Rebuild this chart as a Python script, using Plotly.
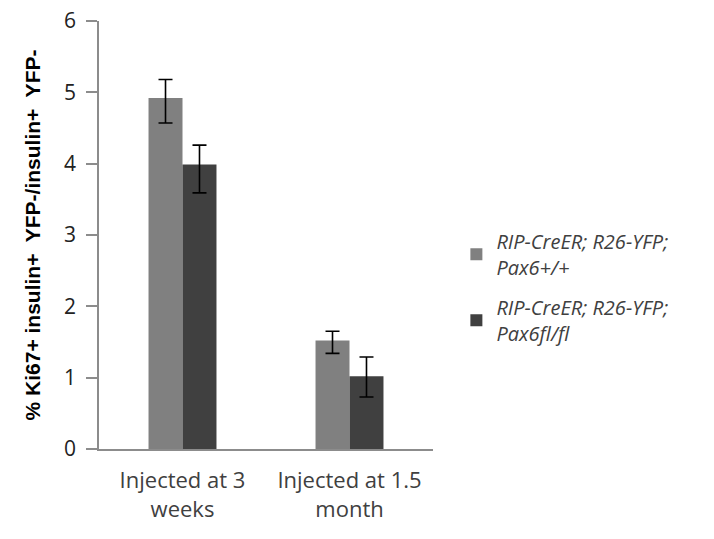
import plotly.graph_objects as go

# Ki67+ proliferation data, two injection ages, two genotypes
categories = ["Injected at 3<br>weeks", "Injected at 1.5<br>month"]
series_names = ["RIP-CreER; R26-YFP;<br>Pax6+/+", "RIP-CreER; R26-YFP;<br>Pax6fl/fl"]
wildtype_values = [4.92, 1.52]
wildtype_err_plus = [0.26, 0.13]
wildtype_err_minus = [0.35, 0.18]
knockout_values = [3.99, 1.02]
knockout_err_plus = [0.27, 0.27]
knockout_err_minus = [0.40, 0.29]
y_ticks = [0, 1, 2, 3, 4, 5, 6]

fig = go.Figure()
fig.add_trace(go.Bar(
    x=categories, y=wildtype_values, name=series_names[0], legendgroup="wt",
    marker=dict(color="#808080", line=dict(width=0)),
    error_y=dict(type="data", symmetric=False, array=wildtype_err_plus,
                 arrayminus=wildtype_err_minus, color="#000000",
                 thickness=1.6, width=7),
))
fig.add_trace(go.Bar(
    x=categories, y=knockout_values, name=series_names[1], legendgroup="ko",
    marker=dict(color="#404040", line=dict(width=0)),
    error_y=dict(type="data", symmetric=False, array=knockout_err_plus,
                 arrayminus=knockout_err_minus, color="#000000",
                 thickness=1.6, width=7),
))

fig.update_layout(
    width=714, height=539,
    margin=dict(l=99, r=281, t=21, b=90, autoexpand=False),
    paper_bgcolor="white", plot_bgcolor="white",
    barmode="group", bargap=0.593, bargroupgap=0,
    font=dict(family="Open Sans, sans-serif", color="#404040"),
    showlegend=True,
    # legend sits to the right of the plot area
    legend=dict(
        x=1.07, xanchor="left", y=0.378, yanchor="middle",
        font=dict(family="Open Sans, sans-serif", size=20, color="#404040", style="italic"),
        tracegroupgap=11, itemwidth=30,
        bgcolor="rgba(0,0,0,0)",
    ),
    xaxis=dict(
        showline=True, linecolor="#8c8c8c", linewidth=1.5,
        ticks="", showgrid=False, zeroline=False,
        tickfont=dict(family="Open Sans, sans-serif", size=22, color="#404040"),
        ticklabelstandoff=11,
    ),
    yaxis=dict(
        range=[0, 6], tickvals=y_ticks, ticktext=[str(v) for v in y_ticks],
        showline=True, linecolor="#8c8c8c", linewidth=1.5,
        ticks="outside", ticklen=11, tickwidth=1.5, tickcolor="#8c8c8c",
        showgrid=False, zeroline=False,
        tickfont=dict(family="Open Sans, sans-serif", size=21, color="#222222"),
        ticklabelstandoff=6,
        title=dict(
            text="% Ki67+ insulin+  YFP-/insulin+  YFP-",
            font=dict(family="Liberation Sans, Arial, sans-serif", size=21,
                      color="#000000", weight="bold"),
            standoff=18,
        ),
    ),
)

fig.write_html("out.html")
